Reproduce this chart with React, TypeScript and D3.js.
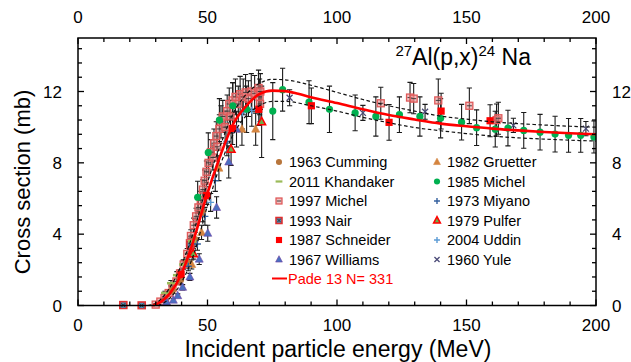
import React from "react";
import * as d3 from "d3";

// ---- data: [energy MeV, cross section mb, error mb]
const cumming: number[][] = [[36.4,0.85,0.15],[39.6,1.45,0.2],[42.1,2.4,0.3],[45.2,3.7,0.4],[48.1,5.2,0.5]];
const khandaker: number[][] = [[33.6,0.7,0.1],[35.9,1.25,0.15],[38.2,1.7,0.2],[40.6,2.3,0.25],[44.0,3.6,0.35]];
const michel1997: number[][] = [
  [30.0,0.05,0.05],[31.8,0.22,0.05],[33.4,0.42,0.08],[35.0,0.7,0.1],[36.5,1.0,0.12],[38.0,1.35,0.15],
  [39.4,1.8,0.2],[40.8,2.3,0.25],[42.2,2.9,0.3],[43.2,3.5,0.35],[43.6,3.9,0.35],[44.7,4.5,0.4],
  [45.6,5.0,0.45],[46.5,5.5,0.5],[47.4,5.9,0.5],[48.2,6.5,0.55],[48.9,7.0,0.6],[49.6,7.5,0.6],
  [50.4,8.0,0.7],[51.3,8.6,0.7],[52.1,8.3,0.7],[52.5,9.1,0.8],[53.4,9.5,0.8],[53.8,8.9,0.8],
  [54.6,9.9,0.8],[55.2,10.3,0.9],[55.9,10.6,0.9],[56.8,10.0,0.9],[57.6,10.9,0.9],[58.4,11.3,0.9],
  [58.9,10.6,0.9],[59.7,11.5,1.0],[60.8,11.7,1.0],[61.9,11.3,1.0],[62.6,11.85,1.0],[63.8,11.7,1.0],
  [64.7,11.95,1.0],[65.8,11.6,1.0],[66.9,12.0,1.0],[68.2,11.9,1.0],[69.7,12.2,1.0],[70.1,11.7,1.0],
  [70.3,11.3,1.0],[70.4,12.0,1.0],
  [116.9,11.34,0.9],[128.2,11.66,0.85],[129.6,11.6,0.85],[139.1,11.5,1.2],[151.1,11.2,1.0],[161.6,10.4,0.9],[162.3,10.5,0.9],
];
const nair: number[][] = [[17.5,0.02,0.05],[24.6,0.0,0.05],[43.4,3.4,0.35]];
const schneider: number[][] = [[39.8,1.74,0.2],[49.7,6.16,0.5],[59.7,9.93,0.9],[69.8,11.0,0.9],[90.1,11.2,1.0],[120.1,10.27,1.0],[140.2,10.9,1.0],[159.1,10.36,0.9]];
const williams: number[][] = [[34.2,0.2,0.05],[36.8,0.3,0.08],[38.5,0.55,0.1],[40.4,1.02,0.15],[43.2,1.6,0.2],[46.8,2.6,0.3],[50.1,4.05,0.45],[53.5,5.5,0.6],[58.2,8.05,0.9],[61.2,9.89,1.0]];
const gruetter: number[][] = [[43.9,2.3,0.25],[47.7,4.1,0.4],[54.4,7.7,0.7],[63.3,9.89,0.9],[68.6,9.89,0.9]];
const michel1985: number[][] = [
  [46.2,6.07,0.9],[50.3,8.58,1.1],[54.6,10.4,1.2],[59.8,11.2,1.3],[65.1,11.0,1.3],[75.2,10.9,1.6],
  [79.0,12.1,1.2],[89.2,11.4,1.2],[97.1,11.0,1.3],[107.0,10.8,1.0],[115.0,10.6,1.1],[124.1,10.7,1.0],
  [132.0,10.6,1.1],[140.0,10.5,1.1],[148.1,10.28,1.0],[153.9,9.97,1.0],[161.1,9.89,1.0],[166.0,9.95,1.0],
  [172.1,9.82,1.0],[178.4,9.72,1.0],[184.2,9.61,1.0],[189.4,9.54,0.95],[194.1,9.54,0.95],[199.2,9.45,0.9],
];
const miyano: number[][] = [[42.6,2.2,0.25],[46.1,3.45,0.35],[49.0,5.0,0.5],[53.0,7.0,0.6],[57.5,9.2,0.8]];
const pulfer: number[][] = [[44.5,2.9,0.3],[59.1,8.76,0.9],[70.9,10.3,2.0]];
const uddin: number[][] = [[51.2,5.78,0.5],[63.5,10.8,0.9],[67.1,10.95,0.9]];
const yule: number[][] = [[81.7,11.65,0.45],[110.0,10.8,0.42],[134.0,10.86,0.42],[168.1,10.1,0.4],[196.1,9.92,0.4]];

// fitted curve and its uncertainty band: [energy, mb]
const padeFit: number[][] = [[29,0],[32,0.2],[35.5,0.68],[40,1.78],[44.5,3.6],[49.7,6.16],[54.2,8.1],[60,10.2],[65,11.2],[70,11.85],[75,12.05],[80,12.02],[85,11.87],[90,11.68],[100,11.35],[110,11.0],[120,10.68],[130,10.43],[140,10.2],[150,10.05],[160,9.92],[170,9.82],[180,9.73],[190,9.66],[200,9.6]];
const padeUpper: number[][] = [[27,0],[30,0.12],[35,0.9],[40,2.3],[45,4.3],[50,6.9],[55,9.0],[60,10.8],[65,11.85],[70,12.45],[75,12.68],[80,12.65],[90,12.35],[100,11.95],[110,11.55],[120,11.2],[130,10.9],[140,10.62],[150,10.45],[160,10.3],[170,10.2],[180,10.12],[190,10.05],[200,10.0]];
const padeLower: number[][] = [[31,0],[35,0.35],[40,1.3],[45,3.0],[50,5.6],[55,7.9],[60,9.6],[65,10.65],[70,11.2],[75,11.45],[80,11.45],[90,11.2],[100,10.9],[110,10.55],[120,10.25],[130,9.98],[140,9.8],[150,9.64],[160,9.5],[170,9.4],[180,9.33],[190,9.27],[200,9.22]];

const xTickLabels = [0, 50, 100, 150, 200];
const yTickLabels = [0, 4, 8, 12];

const FONT = "'Liberation Sans', Arial, Helvetica, sans-serif";

type Shape = "circle" | "dash" | "hsquare" | "nsquare" | "square" | "tri" | "plus" | "ptri" | "x";
interface Series { name: string; data: number[][]; shape: Shape; color: string; }

const seriesList: Series[] = [
  { name: "1963 Cumming", data: cumming, shape: "circle", color: "#b8763c" },
  { name: "2011 Khandaker", data: khandaker, shape: "dash", color: "#9bbb59" },
  { name: "1997 Michel", data: michel1997, shape: "hsquare", color: "#e05a5a" },
  { name: "1993 Nair", data: nair, shape: "nsquare", color: "#e03030" },
  { name: "1987 Schneider", data: schneider, shape: "square", color: "#ff0000" },
  { name: "1967 Williams", data: williams, shape: "tri", color: "#4a6fc0" },
  { name: "1982 Gruetter", data: gruetter, shape: "tri", color: "#d4843f" },
  { name: "1985 Michel", data: michel1985, shape: "circle", color: "#00b050" },
  { name: "1973 Miyano", data: miyano, shape: "plus", color: "#34609e" },
  { name: "1979 Pulfer", data: pulfer, shape: "ptri", color: "#ff0000" },
  { name: "2004 Uddin", data: uddin, shape: "plus", color: "#5b9bd5" },
  { name: "1960 Yule", data: yule, shape: "x", color: "#4b4b78" },
];
const drawOrder = ["1997 Michel", "1993 Nair", "1963 Cumming", "2011 Khandaker", "1982 Gruetter", "1967 Williams", "1973 Miyano", "2004 Uddin", "1960 Yule", "1979 Pulfer", "1985 Michel", "1987 Schneider"];

function Marker({ shape, color, x, y, s = 1 }: { shape: Shape; color: string; x: number; y: number; s?: number }) {
  switch (shape) {
    case "circle":
      return <circle cx={x} cy={y} r={3.6 * s} fill={color} />;
    case "dash":
      return <rect x={x - 4 * s} y={y - 1.3 * s} width={8 * s} height={2.6 * s} fill={color} />;
    case "hsquare":
      return (
        <g>
          <rect x={x - 3.5 * s} y={y - 3.5 * s} width={7 * s} height={7 * s} fill="rgba(228,140,140,0.55)" stroke={color} strokeWidth={1.3} />
          <line x1={x - 2.5 * s} x2={x + 2.5 * s} y1={y} y2={y} stroke="#333" strokeWidth={0.9} />
        </g>
      );
    case "nsquare":
      return (
        <g>
          <rect x={x - 3.5 * s} y={y - 3.5 * s} width={7 * s} height={7 * s} fill="#4f8fb8" stroke={color} strokeWidth={1.6} />
          <path d={`M${x - 2 * s},${y - 2 * s}L${x + 2 * s},${y + 2 * s}M${x - 2 * s},${y + 2 * s}L${x + 2 * s},${y - 2 * s}`} stroke="#333" strokeWidth={1} />
        </g>
      );
    case "square":
      return <rect x={x - 3.6 * s} y={y - 3.6 * s} width={7.2 * s} height={7.2 * s} fill={color} />;
    case "tri":
      return <path d={`M${x},${y - 4.5 * s}L${x + 4 * s},${y + 3 * s}L${x - 4 * s},${y + 3 * s}Z`} fill={color} stroke={shapeStroke(color)} strokeWidth={0.6} />;
    case "ptri":
      return <path d={`M${x},${y - 4.5 * s}L${x + 4 * s},${y + 3 * s}L${x - 4 * s},${y + 3 * s}Z`} fill="#70ad47" stroke={color} strokeWidth={1.5} />;
    case "plus":
      return <path d={`M${x - 3.5 * s},${y}L${x + 3.5 * s},${y}M${x},${y - 3.5 * s}L${x},${y + 3.5 * s}`} stroke={color} strokeWidth={1.4} />;
    case "x":
      return <path d={`M${x - 3 * s},${y - 3 * s}L${x + 3 * s},${y + 3 * s}M${x - 3 * s},${y + 3 * s}L${x + 3 * s},${y - 3 * s}`} stroke={color} strokeWidth={1.3} />;
  }
  return null;
}
function shapeStroke(c: string) {
  return c === "#4a6fc0" ? "#7040a0" : c;
}

export default function App() {
  const W = 631, H = 362;
  const x = d3.scaleLinear().domain([0, 200]).range([78, 596]);
  const y = d3.scaleLinear().domain([0, 15]).range([305.5, 38]);
  const xMinor = d3.range(0, 201, 10);
  const yMinor = d3.range(0, 15, 0.8);
  const line = d3.line<number[]>().x((d) => x(d[0])).y((d) => y(d[1])).curve(d3.curveMonotoneX);
  const ordered = drawOrder.map((n) => seriesList.find((s) => s.name === n)!);
  const x0 = x(0), x1 = x(200), y0 = y(0), y1 = y(15);

  const col1 = seriesList.slice(0, 6);
  const col2 = seriesList.slice(6);
  const legRows = [162, 181.5, 201, 220.5, 240, 259.5];

  return (
    <svg width={W} height={H} style={{ position: "absolute", left: 0, top: 0, background: "#fff" }} fontFamily={FONT}>
      <defs>
        <clipPath id="plot"><rect x={x0} y={y1} width={x1 - x0} height={y0 - y1 + 4} /></clipPath>
      </defs>
      <g clipPath="url(#plot)">
        {ordered.map((s) =>
          s.data.map((d, i) => {
            const cx = x(d[0]);
            const ya = y(d[1] + d[2]), yb = y(Math.max(0, d[1] - d[2]));
            return (
              <g key={s.name + i} stroke="#1a1a1a" strokeWidth={1.1}>
                <line x1={cx} x2={cx} y1={ya} y2={yb} />
                <line x1={cx - 2.6} x2={cx + 2.6} y1={ya} y2={ya} />
                <line x1={cx - 2.6} x2={cx + 2.6} y1={yb} y2={yb} />
              </g>
            );
          })
        )}
        {ordered.map((s) =>
          s.data.map((d, i) => <Marker key={s.name + "m" + i} shape={s.shape} color={s.color} x={x(d[0])} y={y(d[1])} />)
        )}
        <path d={line(padeUpper) || ""} fill="none" stroke="#111" strokeWidth={1.2} strokeDasharray="3.5,2.5" />
        <path d={line(padeLower) || ""} fill="none" stroke="#111" strokeWidth={1.2} strokeDasharray="3.5,2.5" />
        <path d={line(padeFit) || ""} fill="none" stroke="#ff0000" strokeWidth={2.6} />
      </g>

      <rect x={x0} y={y1} width={x1 - x0} height={y0 - y1} fill="none" stroke="#000" strokeWidth={1.5} />
      <g stroke="#000" strokeWidth={1.3}>
        {xMinor.map((v) => {
          const L = v % 50 === 0 ? 6 : 4;
          return (
            <g key={"xt" + v}>
              <line x1={x(v)} x2={x(v)} y1={y0} y2={y0 - L} />
              <line x1={x(v)} x2={x(v)} y1={y1} y2={y1 + L} />
            </g>
          );
        })}
        {yMinor.map((v, i) => {
          const L = i % 5 === 0 ? 6 : 4;
          return (
            <g key={"yt" + i}>
              <line x1={x0} x2={x0 + L} y1={y(v)} y2={y(v)} />
              <line x1={x1} x2={x1 - L} y1={y(v)} y2={y(v)} />
            </g>
          );
        })}
      </g>
      <g fontSize={17} fill="#000">
        {xTickLabels.map((v) => (
          <g key={"xl" + v}>
            <text x={x(v)} y={331} textAnchor="middle">{v}</text>
            <text x={x(v)} y={23} textAnchor="middle">{v}</text>
          </g>
        ))}
        {yTickLabels.map((v) => (
          <g key={"yl" + v}>
            <text x={62} y={y(v) + 6} textAnchor="end">{v}</text>
            <text x={612} y={y(v) + 6} textAnchor="start">{v}</text>
          </g>
        ))}
      </g>
      <text x={338} y={357} textAnchor="middle" fontSize={23}>Incident particle energy (MeV)</text>
      <text transform="translate(30,182) rotate(-90)" textAnchor="middle" fontSize={22}>Cross section (mb)</text>
      <text x={531} y={65} textAnchor="end" fontSize={23}>
        <tspan fontSize={15} dy={-9}>27</tspan>
        <tspan dy={9}>Al(p,x)</tspan>
        <tspan fontSize={15} dy={-9}>24</tspan>
        <tspan dy={9}> Na</tspan>
      </text>

      <g fontSize={14.5} fill="#000">
        {col1.map((s, i) => (
          <g key={"l1" + i}>
            <Marker shape={s.shape} color={s.color} x={279} y={legRows[i]} s={0.85} />
            <text x={289} y={legRows[i] + 5}>{s.name}</text>
          </g>
        ))}
        {col2.map((s, i) => (
          <g key={"l2" + i}>
            <Marker shape={s.shape} color={s.color} x={437} y={legRows[i]} s={0.85} />
            <text x={447} y={legRows[i] + 5}>{s.name}</text>
          </g>
        ))}
        <line x1={272} x2={287} y1={278.5} y2={278.5} stroke="#ff0000" strokeWidth={2} />
        <text x={288} y={283.5} fill="#ff0000">Pade 13 N= 331</text>
      </g>
    </svg>
  );
}
